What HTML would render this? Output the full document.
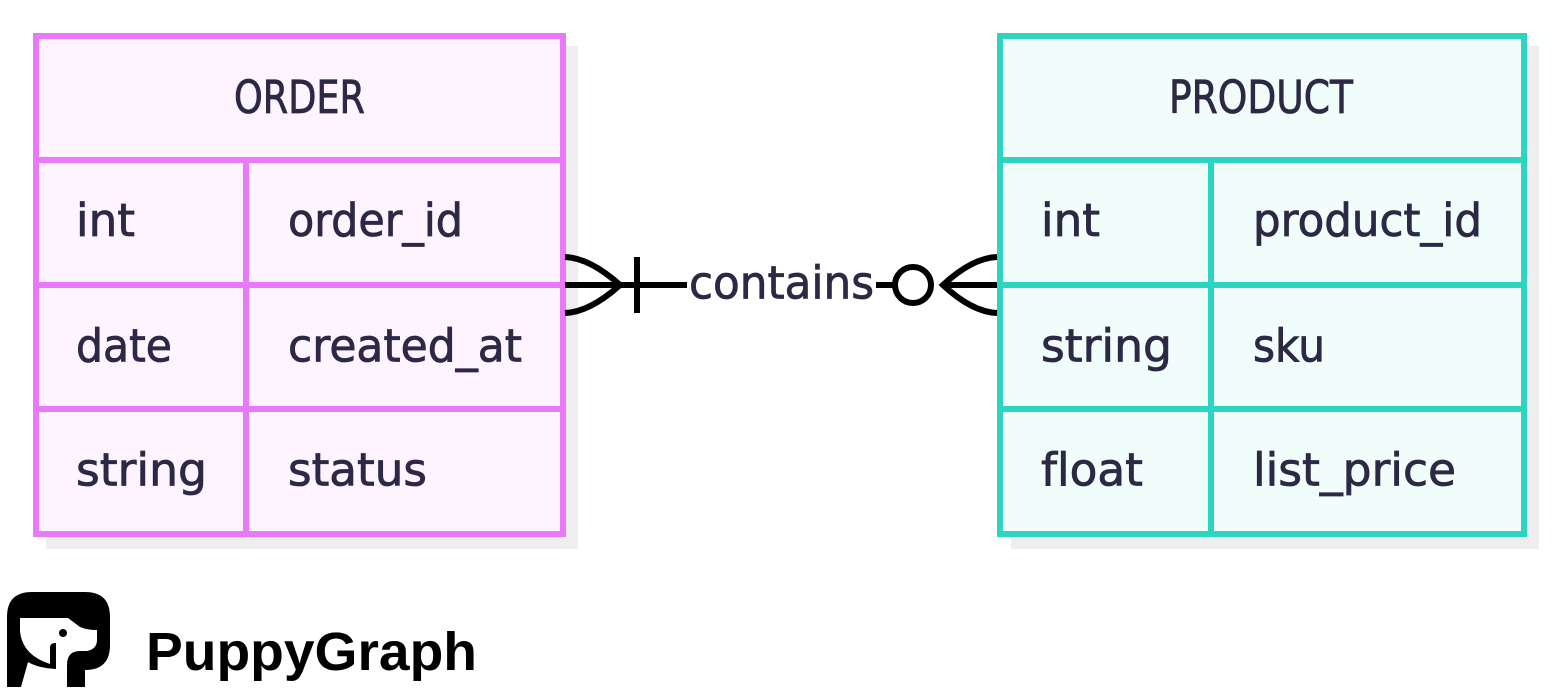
<!DOCTYPE html>
<html>
<head>
<meta charset="utf-8">
<style>
html,body{margin:0;padding:0;background:#fff;width:1562px;height:698px;overflow:hidden}
svg{display:block}
text{font-family:"DejaVu Sans",sans-serif;font-size:45px;fill:#2c2945;stroke:#2c2945;stroke-width:.8px;font-variant-ligatures:none}
</style>
</head>
<body>
<svg width="1562" height="698" viewBox="0 0 1562 698" xmlns="http://www.w3.org/2000/svg">
<rect x="46" y="46" width="532" height="503" fill="#eeeeee"/>
<rect x="1011" y="46" width="528" height="503" fill="#eeeeee"/>
<g stroke="#e879f9" stroke-width="6" fill="none">
<rect x="36" y="36" width="527" height="498" fill="#fdf4ff"/>
<path d="M36 160H563M36 285H563M36 409H563M246 160V534"/>
</g>
<g stroke="#2dd4bf" stroke-width="6" fill="none">
<rect x="1000" y="36" width="524" height="498" fill="#f0fdfa"/>
<path d="M1000 160H1524M1000 285H1524M1000 409H1524M1211 160V534"/>
</g>
<text x="234" y="113" textLength="131" lengthAdjust="spacingAndGlyphs">ORDER</text>
<text x="76" y="236" textLength="59" lengthAdjust="spacingAndGlyphs">int</text>
<text x="288" y="236" textLength="175" lengthAdjust="spacingAndGlyphs">order_id</text>
<text x="76" y="361.5" textLength="96" lengthAdjust="spacingAndGlyphs">date</text>
<text x="288" y="361.5" textLength="234" lengthAdjust="spacingAndGlyphs">created_at</text>
<text x="76" y="485.5" textLength="131" lengthAdjust="spacingAndGlyphs">string</text>
<text x="288" y="485.5" textLength="139" lengthAdjust="spacingAndGlyphs">status</text>
<text x="1169" y="113" textLength="184" lengthAdjust="spacingAndGlyphs">PRODUCT</text>
<text x="1041" y="236" textLength="59" lengthAdjust="spacingAndGlyphs">int</text>
<text x="1253" y="236" textLength="229" lengthAdjust="spacingAndGlyphs">product_id</text>
<text x="1041" y="361.5" textLength="131" lengthAdjust="spacingAndGlyphs">string</text>
<text x="1253" y="361.5" textLength="72" lengthAdjust="spacingAndGlyphs">sku</text>
<text x="1041" y="485.5" textLength="102" lengthAdjust="spacingAndGlyphs">float</text>
<text x="1253" y="485.5" textLength="203" lengthAdjust="spacingAndGlyphs">list_price</text>
<text x="689" y="298.5" textLength="185" lengthAdjust="spacingAndGlyphs">contains</text>
<g stroke="#000" stroke-width="6" fill="none">
<path d="M565 285H687"/>
<path d="M565 257Q590 258 620 285Q590 312 565 313"/>
<path d="M637 257V313"/>
<path d="M876 285H895"/>
<circle cx="913" cy="285" r="18" fill="#fff"/>
<path d="M943 285H997"/>
<path d="M997 257Q972 258 943 285Q972 312 997 313"/>
</g>
<path fill="#000" d="M7 687V617Q7 592 32 592H85Q110 592 110 617V645Q110 670 85 670V687H67V665Q67 651 80 651H87Q97 649 97 640V630Q87 630 80 627L68 618H20V631Q22 655 50 664V648Q50 643 55 643H56V669Q38 668 28 662L21 687Z"/>
<circle cx="63" cy="633" r="4" fill="#000"/>
<text x="146" y="670" textLength="331" lengthAdjust="spacingAndGlyphs" style="font-family:'Liberation Sans',sans-serif;font-weight:700;font-size:54px;fill:#000;stroke:none">PuppyGraph</text>
</svg>
</body>
</html>
